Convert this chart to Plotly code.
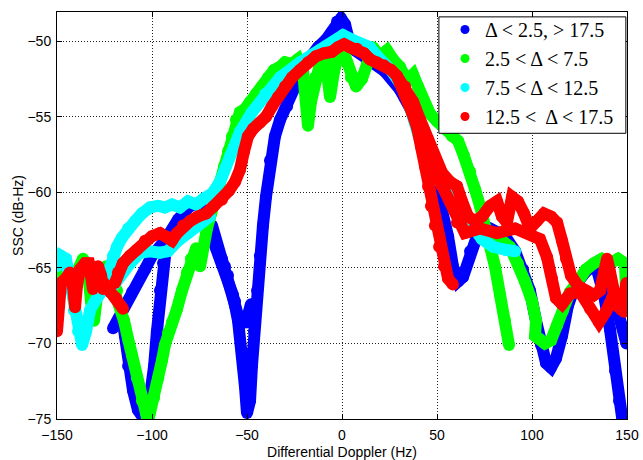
import plotly.graph_objects as go

# ---------------- data ----------------
series_names = ["Δ &lt; 2.5, &gt; 17.5", "2.5 &lt; Δ &lt; 7.5", "7.5 &lt; Δ &lt; 12.5", "12.5 &lt;\u00a0 Δ &lt; 17.5"]
series_colors = ["#0000FF", "#00FF00", "#00FFFF", "#FF0000"]

x_ticks = [-150, -100, -50, 0, 50, 100, 150]
y_ticks = [-75, -70, -65, -60, -55, -50]

# blue: Δ < 2.5, > 17.5
blue_a_x = [-120.5, -115.8, -110.5, -103.7, -100.0, -93.2, -86.3, -80.0, -74.7, -70.5, -66.8, -63.2, -60.0, -57.4,
            -54.7, -52.6, -51.1, -50.0, -48.4, -47.4, -46.3, -44.7, -43.2, -41.6, -40.0, -37.9, -35.3, -32.6, -28.9,
            -24.7, -20.5, -16.8, -12.6, -8.4, -5.3, -2.6, -0.5, 1.6, 3.2, 6.8, 13.7, 22.6, 30.5, 38.4, 45.3, 51.6,
            55.8, 58.4, 61.1, 63.7, 67.4, 71.6, 77.9, 85.8, 91.1, 95.3, 98.9, 102.1, 104.7, 107.4, 110.0, 112.6,
            115.8, 118.9, 122.6, 127.9, 133.7, 138.9, 143.7, 147.4, 149.7]
blue_a_y = [-69.0, -68.0, -66.6, -65.1, -64.2, -63.2, -61.8, -60.9, -60.8, -62.2, -63.2, -64.4, -65.5, -66.8,
            -68.5, -70.5, -72.8, -74.6, -73.8, -71.5, -69.2, -66.5, -64.2, -62.2, -60.3, -57.9, -56.3, -55.2, -54.3,
            -53.0, -51.7, -51.0, -50.4, -49.9, -49.4, -48.7, -48.5, -48.9, -49.7, -50.6, -51.2, -52.0, -53.2, -55.0,
            -57.3, -60.3, -62.9, -64.9, -65.9, -65.6, -63.9, -62.7, -62.4, -62.9, -63.9, -65.1, -66.5, -68.5, -70.1,
            -71.3, -71.6, -71.0, -69.5, -67.5, -66.2, -65.3, -64.7, -65.5, -67.2, -68.8, -70.0]
blue_b_x = [-115.8, -114.2, -112.6, -110.0, -107.4, -104.7, -102.1, -100.5, -98.9, -97.4, -95.8, -94.2, -92.6]
blue_b_y = [-68.2, -69.5, -71.5, -73.1, -74.4, -74.9, -74.5, -73.4, -71.5, -69.2, -66.5, -64.7, -63.6]
blue_c_x = [-68.4, -61.6, -56.3, -53.7, -50.5, -47.9]
blue_c_y = [-62.2, -64.9, -67.2, -68.6, -68.6, -67.4]
blue_d_x = [134.2, 137.9, 141.1, 143.7, 145.8, 147.4]
blue_d_y = [-65.1, -66.8, -69.1, -71.8, -73.8, -74.9]

# green: 2.5 < Δ < 7.5
green_a_x = [-150, -149.5, -148.4, -145.8, -143.2, -141.1, -138.9, -136.3, -133.7, -132.1, -130.5, -128.9, -126.8,
             -124.2, -121.6, -118.4, -116.8, -114.7, -112.6, -110.5, -107.9, -105.3, -103.2, -101.1, -98.9, -96.8,
             -94.7, -93.2, -91.6, -89.5, -86.8, -84.2, -81.6, -79.5, -76.8, -74.7, -73.2, -71.1, -68.9, -66.8,
             -64.7, -62.1, -60.0, -57.9, -55.8, -53.7, -51.1, -48.4, -45.3, -42.1, -38.9, -35.8, -32.6, -30.0,
             -26.3, -23.2, -20.5, -18.9, -17.9, -16.3, -14.2, -11.6, -8.9, -6.3, -4.2, -2.1, 0.5, 2.6, 4.7, 7.4,
             10.5, 13.7, 16.3, 20.0, 23.7, 26.8, 30.5, 34.2, 37.4, 40.0, 42.6, 46.3, 50.0, 54.2, 57.9, 61.1, 64.2,
             67.4, 70.0, 72.6, 75.8, 77.9, 80.5, 83.2, 85.8, 87.9]
green_a_y = [-68.5, -66.5, -64.9, -64.7, -65.5, -67.2, -65.1, -64.4, -65.2, -67.2, -68.5, -66.8, -65.3, -64.9,
             -65.9, -66.5, -67.5, -68.5, -69.7, -70.8, -72.3, -73.8, -74.6, -74.6, -73.6, -72.3, -71.1, -70.1,
             -69.3, -68.6, -67.7, -66.5, -65.3, -64.4, -63.7, -64.9, -63.6, -62.4, -61.4, -60.5, -59.4, -58.3,
             -57.3, -56.3, -55.2, -54.7, -54.5, -54.0, -53.5, -53.0, -52.4, -51.9, -51.7, -51.4, -51.5, -51.2,
             -52.0, -53.7, -55.6, -54.0, -52.4, -51.5, -51.0, -53.7, -52.0, -51.0, -50.6, -51.4, -52.4, -53.0,
             -52.5, -51.0, -50.4, -51.0, -50.6, -51.2, -51.7, -52.6, -52.2, -53.0, -54.0, -54.8, -55.3, -55.8,
             -56.3, -56.6, -57.6, -58.6, -59.8, -60.9, -62.4, -63.2, -64.9, -66.8, -68.5, -70.1]
green_b_x = [77.9, 83.2, 88.4, 92.6, 96.3, 100.0, 102.1, 101.6, 104.2, 106.8, 110.0, 113.2, 116.3, 120.0, 124.2,
             128.4, 132.6, 136.8, 141.1, 145.3, 148.9, 149.7, 149.7]
green_b_y = [-63.2, -63.1, -63.6, -64.7, -65.9, -67.2, -68.5, -69.5, -69.7, -70.0, -69.8, -68.8, -67.8, -66.6,
             -65.9, -65.1, -64.7, -64.4, -64.7, -64.4, -64.7, -65.5, -67.0]

# cyan: 7.5 < Δ < 12.5
cyan_a_x = [-150, -147.9, -145.3, -143.2, -141.1, -138.9, -136.8, -134.7, -132.6, -130.0, -127.4, -124.7, -122.6,
            -120.5, -118.4, -115.8, -112.6, -108.9, -105.3, -101.1, -96.8, -93.2, -89.5, -85.3, -81.1, -76.8,
            -72.6, -68.4, -64.2, -58.9, -53.7, -47.4, -40.5, -32.6, -22.1, -11.6, -3.7, 0.5, 5.3, 10.5, 14.7,
            20.0, 26.3, 33.2, 38.4, 42.1, 45.3, 48.9, 55.3, 60.5, 63.7, 68.4, 73.7, 79.5, 85.8, 91.1]
cyan_a_y = [-64.9, -64.2, -64.4, -65.9, -67.8, -69.2, -70.1, -69.2, -67.8, -67.2, -66.7, -66.2, -65.2, -64.2,
            -63.6, -63.0, -62.4, -61.9, -61.4, -61.0, -60.9, -61.0, -60.8, -61.0, -60.6, -60.8, -60.4, -60.1,
            -59.3, -57.6, -56.0, -54.7, -53.5, -52.4, -51.4, -50.6, -50.1, -49.6, -49.9, -50.2, -50.4, -51.2,
            -52.0, -53.3, -55.3, -57.2, -58.3, -59.1, -59.6, -60.3, -61.2, -62.2, -63.1, -63.6, -63.8, -63.9]
cyan_b_x = [-122.1, -116.8, -111.6, -106.3, -101.1, -95.8, -91.6, -86.3, -81.1, -75.8, -69.5]
cyan_b_y = [-66.5, -65.5, -64.7, -64.0, -63.9, -64.0, -63.9, -63.2, -62.7, -62.2, -61.6]

# red: 12.5 < Δ < 17.5
red_a_x = [-150.0, -149.5, -147.9, -145.3, -143.2, -141.6, -140.5, -139.5, -137.9, -135.3, -133.2, -132.1, -131.1,
           -130.0, -128.4, -126.8, -125.8, -124.2, -122.1, -118.9, -115.3]
red_a_y = [-69.2, -66.8, -66.0, -65.7, -65.3, -66.2, -67.6, -66.2, -65.1, -64.7, -64.7, -65.5, -66.4, -65.3,
           -64.9, -65.5, -66.4, -66.2, -66.6, -67.0, -67.7]
red_b_x = [-119.5, -117.9, -115.3, -111.6, -107.9, -103.7, -100.0, -95.8, -92.6, -89.5, -86.8, -83.7, -80.0, -75.8,
           -71.6, -67.4, -63.2, -59.5, -56.3, -53.7, -51.6, -49.5, -46.8, -43.2, -40.0, -36.8, -33.7, -30.0, -26.3,
           -22.1, -17.9, -13.7, -9.5, -5.3, -2.1, 1.1, 4.2, 7.9, 11.6, 14.7, 18.4, 22.1, 25.8, 28.9, 31.6, 34.2,
           36.8, 39.5, 41.6, 43.7, 45.3, 46.8, 48.9, 51.1, 53.7, 55.8, 58.4]
red_b_y = [-66.0, -65.3, -64.7, -64.2, -63.8, -63.2, -62.9, -62.7, -62.9, -63.2, -62.7, -62.2, -61.9, -61.6,
           -61.4, -60.9, -60.5, -59.9, -59.3, -58.5, -57.3, -56.3, -55.8, -55.4, -55.0, -54.3, -53.7, -53.0, -52.4,
           -51.9, -51.4, -51.0, -50.8, -50.7, -50.4, -50.2, -50.4, -50.5, -50.8, -51.2, -51.4, -51.6, -51.9, -52.3,
           -53.0, -53.9, -54.7, -55.7, -57.0, -58.3, -59.6, -60.9, -62.2, -63.6, -64.9, -65.7, -66.1]
red_c_x = [28.9, 33.2, 37.4, 41.1, 45.3, 48.9, 52.6, 56.8, 60.5, 63.2, 66.3, 70.0, 73.7, 77.9, 81.6, 84.2, 86.8, 89.5,
           92.6, 95.8, 98.9, 102.6, 106.3, 110.0, 113.2, 115.8, 117.9, 120.5, 124.2, 128.4, 132.6, 135.8, 137.9,
           139.5, 141.1, 142.6, 144.7, 147.4, 149.5, 149.7]
red_c_y = [-52.3, -53.0, -54.0, -55.2, -56.5, -57.8, -58.7, -59.3, -59.6, -60.6, -61.6, -61.9, -61.6, -60.9, -60.6,
           -61.6, -62.0, -60.3, -60.6, -61.4, -62.4, -61.9, -61.4, -61.6, -62.0, -63.2, -64.4, -65.5, -66.2, -66.5,
           -66.8, -66.5, -65.5, -64.4, -65.3, -66.5, -67.5, -67.8, -66.5, -66.0]
red_d_x = [46.3, 52.6, 56.8, 60.5, 64.7, 72.6, 81.6, 91.1, 98.9, 104.2, 107.9, 110.5, 112.6, 115.8, 120.0, 125.3,
           130.5, 135.3, 138.9, 142.1, 145.3, 148.4, 149.7]
red_d_y = [-57.9, -59.6, -60.6, -62.0, -62.7, -62.4, -62.7, -62.4, -62.7, -63.1, -64.3, -65.7, -67.0, -67.4, -66.7,
           -66.6, -67.7, -68.6, -67.9, -67.0, -67.2, -67.9, -67.2]


def join(*segments):
    out = []
    for i, seg in enumerate(segments):
        if i:
            out.append(None)
        out.extend(seg)
    return out


series_x = [join(blue_a_x, blue_b_x, blue_c_x, blue_d_x),
            join(green_a_x, green_b_x),
            join(cyan_a_x, cyan_b_x),
            join(red_a_x, red_b_x, red_c_x, red_d_x)]
series_y = [join(blue_a_y, blue_b_y, blue_c_y, blue_d_y),
            join(green_a_y, green_b_y),
            join(cyan_a_y, cyan_b_y),
            join(red_a_y, red_b_y, red_c_y, red_d_y)]

LW = 12
fig = go.Figure()
for xs, ys, col in zip(series_x, series_y, series_colors):
    fig.add_trace(go.Scatter(x=xs, y=ys, mode="lines+markers", showlegend=False,
                             line=dict(color=col, width=LW),
                             marker=dict(color=col, size=LW, line=dict(width=0)),
                             connectgaps=False, hoverinfo="skip"))
for name, col in zip(series_names, series_colors):
    fig.add_trace(go.Scatter(x=[None], y=[None], mode="markers", name=name,
                             marker=dict(color=col, size=9)))

FONT = "Liberation Sans, Arial"
axis_common = dict(showline=True, linecolor="black", linewidth=1, mirror="ticks",
                   ticks="inside", ticklen=5, tickcolor="black", automargin=False,
                   showgrid=True, gridcolor="#222222", griddash="1px,2px", gridwidth=1,
                   zeroline=False, tickfont=dict(family=FONT, size=14, color="black"))

fig.update_xaxes(range=[-150, 150], tickvals=x_ticks, ticklabelstandoff=3,
                 title=dict(text="Differential Doppler (Hz)", standoff=5,
                            font=dict(family=FONT, size=14, color="black")),
                 **axis_common)
fig.update_yaxes(range=[-75, -48.07], tickvals=y_ticks, ticklabelstandoff=2,
                 title=dict(text="SSC (dB-Hz)", standoff=0,
                            font=dict(family=FONT, size=14, color="black")),
                 **axis_common)

# legend frame (paper coordinates)
fig.add_shape(type="rect", xref="paper", yref="paper", x0=0.670, x1=0.998, y0=0.702, y1=0.988,
              line=dict(color="black", width=1), fillcolor="white", layer="above")

fig.update_layout(width=643, height=460, margin=dict(l=57, r=16, t=10, b=41),
                  paper_bgcolor="white", plot_bgcolor="white", hovermode=False,
                  legend=dict(x=0.6807, y=1.005, xanchor="left", yanchor="top",
                              bgcolor="rgba(0,0,0,0)", borderwidth=0,
                              font=dict(family="Liberation Serif, Times New Roman", size=20, color="black")))

fig.write_html("out.html", config={"displayModeBar": False, "staticPlot": False},
               post_script="document.body.style.margin='0';document.body.style.padding='0';"
                           "document.body.style.overflow='hidden';")
